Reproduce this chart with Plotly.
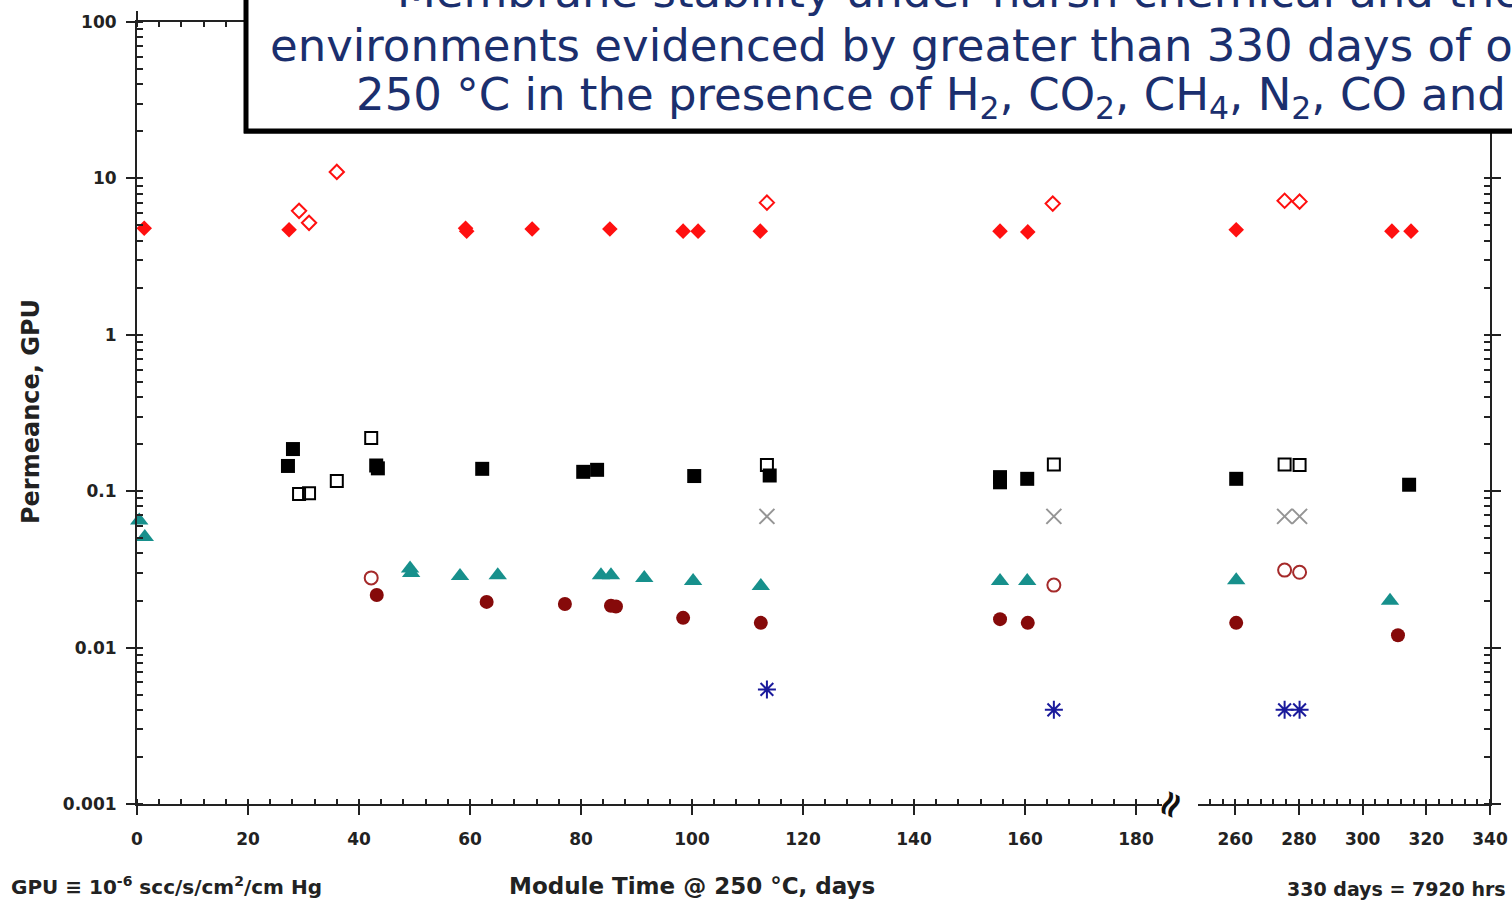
import plotly.graph_objects as go

# ---------------- data ----------------
h2_days = [1.3, 27.4, 59.2, 59.4, 71.2, 85.2, 98.4, 101.1, 112.3, 155.5, 160.5, 260.3, 309.2, 315.2]
h2_vals = [4.8, 4.7, 4.8, 4.6, 4.75, 4.75, 4.6, 4.6, 4.6, 4.6, 4.55, 4.7, 4.6, 4.6]

h2_open_days = [29.2, 31.0, 36.0, 113.5, 165.0, 275.5, 280.2]
h2_open_vals = [6.2, 5.2, 11.0, 7.0, 6.9, 7.2, 7.1]

co2_days = [27.2, 28.1, 43.1, 43.4, 62.2, 80.4, 82.9, 100.4, 114.0, 155.5, 155.5, 160.4, 260.3, 314.6]
co2_vals = [0.145, 0.186, 0.146, 0.140, 0.139, 0.133, 0.137, 0.125, 0.126, 0.123, 0.114, 0.120, 0.120, 0.110]

co2_open_days = [29.2, 31.0, 36.0, 42.2, 113.5, 165.2, 275.5, 280.2]
co2_open_vals = [0.096, 0.097, 0.116, 0.219, 0.147, 0.148, 0.148, 0.147]

x_grey_days = [113.5, 165.2, 275.5, 280.2]
x_grey_vals = [0.069, 0.069, 0.069, 0.069]

tri_days = [0.4, 1.4, 49.2, 49.4, 58.2, 65.0, 83.6, 85.4, 91.4, 100.2, 112.4, 155.5, 160.4, 260.3, 308.6]
tri_vals = [0.065, 0.051, 0.032, 0.030, 0.0287, 0.029, 0.029, 0.029, 0.0279, 0.0267, 0.0248, 0.0267, 0.0267, 0.027, 0.0199]

circ_days = [43.2, 63.0, 77.1, 85.4, 86.3, 98.4, 112.4, 155.5, 160.5, 260.3, 311.1]
circ_vals = [0.0217, 0.0196, 0.019, 0.0185, 0.0183, 0.0155, 0.0144, 0.0152, 0.0144, 0.0144, 0.012]

circ_open_days = [42.2, 165.2, 275.5, 280.2]
circ_open_vals = [0.0279, 0.0251, 0.0313, 0.0303]

ast_days = [113.5, 165.2, 275.5, 280.2]
ast_vals = [0.0054, 0.0040, 0.0040, 0.0040]

x1_ticks = [0, 20, 40, 60, 80, 100, 120, 140, 160, 180]
x2_ticks = [260, 280, 300, 320, 340]
y_ticks = [0.001, 0.01, 0.1, 1, 10, 100]
y_ticklabels = ["0.001", "0.01", "0.1", "1", "10", "100"]

BREAK = 200

FONT = "DejaVu Sans"
RED = "#ff1010"
TEAL = "#17908c"
DKRED = "#860a0a"
OPENRED = "#a52a2a"
GREY = "#959595"
BLUE = "#1a1a9c"
NAVY = "#1b2f6e"

fig = go.Figure()


def add_series(days, vals, marker):
    d1 = [d for d in days if d < BREAK]
    v1 = [v for d, v in zip(days, vals) if d < BREAK]
    d2 = [d for d in days if d >= BREAK]
    v2 = [v for d, v in zip(days, vals) if d >= BREAK]
    if d1:
        fig.add_trace(go.Scatter(x=d1, y=v1, mode="markers", marker=marker,
                                 xaxis="x", yaxis="y", showlegend=False, cliponaxis=False))
    if d2:
        fig.add_trace(go.Scatter(x=d2, y=v2, mode="markers", marker=marker,
                                 xaxis="x2", yaxis="y2", showlegend=False, cliponaxis=False))


add_series(co2_days, co2_vals, dict(symbol="square", size=14, color="black"))
add_series(co2_open_days, co2_open_vals, dict(symbol="square-open", size=12, color="black", line=dict(width=2)))
add_series(x_grey_days, x_grey_vals, dict(symbol="x-thin-open", size=15, color=GREY, line=dict(width=2, color=GREY)))
add_series(tri_days, tri_vals, dict(symbol="triangle-up", size=16, color=TEAL))
add_series(circ_days, circ_vals, dict(symbol="circle", size=14, color=DKRED))
add_series(circ_open_days, circ_open_vals, dict(symbol="circle-open", size=13, color=OPENRED, line=dict(width=2)))
add_series(ast_days, ast_vals, dict(symbol="asterisk-open", size=15, color=BLUE, line=dict(width=2, color=BLUE)))
add_series(h2_days, h2_vals, dict(symbol="diamond", size=12, color=RED))
add_series(h2_open_days, h2_open_vals, dict(symbol="diamond-open", size=11, color=RED, line=dict(width=2)))

L, R, T, B = 137, 22, 22, 100
W, H = 1512, 904
PW = W - L - R
PH = H - T - B


def px(xp):
    return (xp - L) / PW


def py(yp):
    return (H - B - yp) / PH


axis_common = dict(showline=True, linecolor="#222", linewidth=2, showgrid=False, zeroline=False,
                   automargin=False,
                   ticks="outside", ticklen=9, tickwidth=2, tickcolor="#222",
                   tickfont=dict(family=FONT, size=17, color="#222", weight="bold"))

fig.update_layout(
    width=W, height=H, autosize=False,
    margin=dict(l=L, r=R, t=T, b=B, autoexpand=False),
    paper_bgcolor="white", plot_bgcolor="white",
    xaxis=dict(domain=[0, px(1162)], range=[0, (1162 - 137) / 5.55], anchor="y",
               tickvals=x1_ticks, mirror="ticks",
               minor=dict(ticks="inside", ticklen=5, tickwidth=1.5, tickcolor="#222", dtick=4, tick0=0),
               ticklabelstandoff=10, **axis_common),
    xaxis2=dict(domain=[px(1198), 1], range=[248.3, 340], anchor="y2",
                tickvals=x2_ticks, mirror="ticks",
                minor=dict(ticks="inside", ticklen=5, tickwidth=1.5, tickcolor="#222", dtick=4, tick0=0),
                ticklabelstandoff=10, **axis_common),
    yaxis=dict(type="log", range=[-3, 2], anchor="x", side="left",
               tickvals=y_ticks, ticktext=y_ticklabels,
               minor=dict(ticks="inside", ticklen=6, tickwidth=1.5, tickcolor="#222", dtick="D1"),
               ticklabelstandoff=6, **axis_common),
    yaxis2=dict(type="log", range=[-3, 2], anchor="x2", side="right",
                tickvals=y_ticks, showticklabels=False,
                minor=dict(ticks="inside", ticklen=6, tickwidth=1.5, tickcolor="#222", dtick="D1"),
                **axis_common),
)

# title box
fig.add_shape(type="rect", xref="paper", yref="paper",
              x0=px(246), x1=px(1560), y0=py(131), y1=py(-40),
              fillcolor="white", line=dict(color="black", width=5), layer="above")
fig.add_shape(type="line", xref="paper", yref="paper",
              x0=px(244), x1=px(1560), y0=py(132), y1=py(132),
              line=dict(color="black", width=3), layer="above")

title_lines = [
    ("Membrane stability under harsh chemical and thermal", 395, -8),
    ("environments evidenced by greater than 330 days of operation at", 268, 46),
    ("250 °C in the presence of H<sub>2</sub>, CO<sub>2</sub>, CH<sub>4</sub>, N<sub>2</sub>, CO and H<sub>2</sub>S", 354, 97),
]
for txt, xl, yc in title_lines:
    fig.add_annotation(text=txt, xref="paper", yref="paper", x=px(xl), y=py(yc),
                       xanchor="left", yanchor="middle", showarrow=False,
                       font=dict(family=FONT, size=45, color=NAVY))

bold = dict(family=FONT, color="#222", weight="bold")

fig.add_annotation(text="Permeance, GPU", xref="paper", yref="paper", x=px(31), y=py(412),
                   xanchor="center", yanchor="middle", textangle=-90, showarrow=False,
                   font=dict(size=24, **bold))
fig.add_annotation(text="Module Time @ 250 °C, days", xref="paper", yref="paper", x=px(692), y=py(886),
                   xanchor="center", yanchor="middle", showarrow=False, font=dict(size=23, **bold))
fig.add_annotation(text="GPU ≡ 10<sup>-6</sup> scc/s/cm<sup>2</sup>/cm Hg", xref="paper", yref="paper",
                   x=px(9), y=py(886), xanchor="left", yanchor="middle", showarrow=False,
                   font=dict(size=20, **bold))
fig.add_annotation(text="330 days = 7920 hrs", xref="paper", yref="paper", x=px(1508), y=py(889),
                   xanchor="right", yanchor="middle", showarrow=False, font=dict(size=19, **bold))
# axis break mark
fig.add_annotation(text="≈", xref="paper", yref="paper", x=px(1169), y=py(804),
                   xanchor="center", yanchor="middle", textangle=-65, showarrow=False,
                   font=dict(family=FONT, size=36, color="#111", weight="bold"))

fig.write_html("out.html", config={"displayModeBar": False},
               post_script="document.body.style.margin='0';")
